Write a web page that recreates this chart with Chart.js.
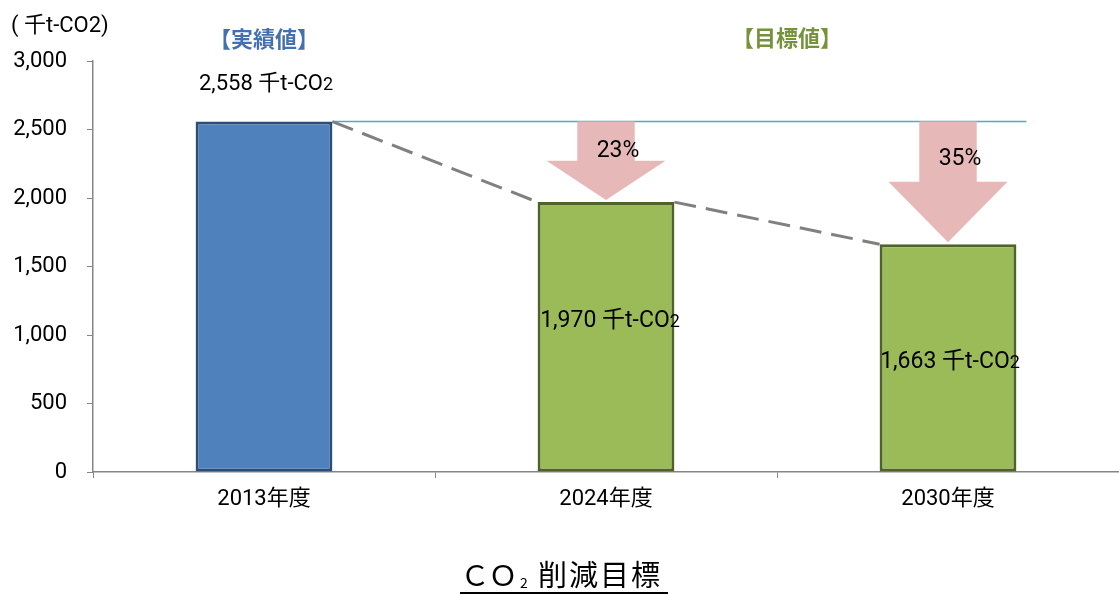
<!DOCTYPE html>
<html>
<head>
<meta charset="utf-8">
<script src="https://cdn.jsdelivr.net/npm/chart.js@4"></script>
<style>
  html, body { margin: 0; padding: 0; background: #fff; }
</style>
</head>
<body>
<canvas id="co2Chart" width="1119" height="596"></canvas>
<script>
// data
const years = ["2013年度", "2024年度", "2030年度"];
const emissions = [2558, 1970, 1663];
const valueLabels = ["2,558", "1,970", "1,663"];
const reductionLabels = ["", "23%", "35%"];
const yTicks = [0, 500, 1000, 1500, 2000, 2500, 3000];

const LATIN = 'Roboto, "Noto Sans CJK JP", sans-serif';
const JP = '"Noto Sans CJK JP", sans-serif';
const AXIS_GREY = "#868686";

// "1,970 千t-CO" + small "2"
function drawCO2Label(ctx, num, cx, cy, size) {
  const main = num + " 千t-CO";
  ctx.font = size + "px " + LATIN;
  const w1 = ctx.measureText(main).width;
  ctx.font = Math.round(size * 0.8) + "px " + LATIN;
  const w2 = ctx.measureText("2").width;
  const x = cx - (w1 + w2) / 2;
  const base = cy + size * 0.36;
  ctx.textAlign = "left";
  ctx.textBaseline = "alphabetic";
  ctx.fillStyle = "#000";
  ctx.font = size + "px " + LATIN;
  ctx.fillText(main, x, base);
  ctx.font = Math.round(size * 0.8) + "px " + LATIN;
  ctx.fillText("2", x + w1, base);
}

function drawArrow(ctx, cx, top, bottom, barW) {
  const shaftW = barW * 0.42;
  const headW = barW * 0.87;
  const headStart = top + (bottom - top) * 0.5;
  ctx.beginPath();
  ctx.moveTo(cx - shaftW / 2, top);
  ctx.lineTo(cx + shaftW / 2, top);
  ctx.lineTo(cx + shaftW / 2, headStart);
  ctx.lineTo(cx + headW / 2, headStart);
  ctx.lineTo(cx, bottom);
  ctx.lineTo(cx - headW / 2, headStart);
  ctx.lineTo(cx - shaftW / 2, headStart);
  ctx.closePath();
  ctx.fillStyle = "#e6b9b8";
  ctx.fill();
}

const overlay = {
  id: "overlay",
  afterDatasetsDraw(chart) {
    const ctx = chart.ctx;
    const y = chart.scales.y;
    const bars = chart.getDatasetMeta(0).data;
    const baseY = y.getPixelForValue(emissions[0]);
    ctx.save();

    // reference line at 2013 level
    ctx.strokeStyle = "#4bacc6";
    ctx.lineWidth = 1.5;
    ctx.beginPath();
    ctx.moveTo(bars[0].x + bars[0].width / 2, baseY);
    ctx.lineTo(bars[bars.length - 1].x + bars[bars.length - 1].width / 2 + 10, baseY);
    ctx.stroke();

    // dashed trend between bar tops
    ctx.strokeStyle = "#808080";
    ctx.lineWidth = 3;
    ctx.setLineDash([22, 10]);
    for (let i = 0; i < bars.length - 1; i++) {
      ctx.beginPath();
      ctx.moveTo(bars[i].x + bars[i].width / 2, bars[i].y);
      ctx.lineTo(bars[i + 1].x - bars[i + 1].width / 2, bars[i + 1].y);
      ctx.stroke();
    }
    ctx.setLineDash([]);

    // reduction arrows
    for (let i = 1; i < bars.length; i++) {
      const top = baseY;
      const bottom = bars[i].y - 2;
      drawArrow(ctx, bars[i].x, top, bottom, bars[i].width);
      ctx.fillStyle = "#000";
      ctx.font = "23px " + LATIN;
      ctx.textAlign = "center";
      ctx.textBaseline = "middle";
      ctx.fillText(reductionLabels[i], bars[i].x + 12, top + 30 + (i - 1) * 8);
    }

    // value labels
    drawCO2Label(ctx, valueLabels[0], bars[0].x + 2, bars[0].y - 39, 22);
    drawCO2Label(ctx, valueLabels[1], bars[1].x + 4, (bars[1].y + bars[1].base) / 2 - 18, 23);
    drawCO2Label(ctx, valueLabels[2], bars[2].x + 2, (bars[2].y + bars[2].base) / 2 + 2, 23);

    ctx.restore();
  },
  afterDraw(chart) {
    const ctx = chart.ctx;
    const bars = chart.getDatasetMeta(0).data;
    ctx.save();
    ctx.textBaseline = "middle";

    // unit
    ctx.fillStyle = "#000";
    ctx.textAlign = "left";
    ctx.font = "22px " + LATIN;
    ctx.fillText("( 千t-CO2)", 11, 26);

    // section headers
    ctx.textAlign = "center";
    ctx.font = "bold 22px " + JP;
    ctx.fillStyle = "#4470b0";
    ctx.fillText("【実績値】", bars[0].x, 39);
    ctx.fillStyle = "#76923c";
    ctx.fillText("【目標値】", 787, 38);

    // bottom title with underline
    ctx.fillStyle = "#000";
    ctx.font = "29px " + JP;
    ctx.fillText("Ｃ", 475, 575);
    ctx.fillText("Ｏ", 503, 575);
    ctx.font = "14px " + JP;
    ctx.fillText("2", 524, 583);
    ctx.textAlign = "left";
    ctx.font = "29px " + JP;
    const title = "削減目標";
    for (let i = 0; i < title.length; i++) {
      ctx.fillText(title[i], 538 + i * 31, 575);
    }
    ctx.fillRect(460, 592, 208, 2);

    ctx.restore();
  }
};

new Chart(document.getElementById("co2Chart"), {
  type: "bar",
  data: {
    labels: years,
    datasets: [{
      data: emissions,
      backgroundColor: ["#4f81bd", "#9bbb59", "#9bbb59"],
      borderColor: ["#2c4d75", "#4f6228", "#4f6228"],
      borderWidth: 3,
      borderSkipped: false,
      categoryPercentage: 1,
      barPercentage: 0.4
    }]
  },
  options: {
    responsive: false,
    animation: false,
    layout: { padding: { top: 61, right: 0, bottom: 0, left: 0 } },
    plugins: {
      legend: { display: false },
      tooltip: { enabled: false }
    },
    scales: {
      x: {
        grid: { drawOnChartArea: false, color: AXIS_GREY, tickLength: 6, offset: true },
        border: { color: AXIS_GREY, width: 1.5 },
        ticks: { color: "#000", font: { size: 22, family: LATIN }, padding: 8 },
        afterFit: (s) => { s.height = 124; }
      },
      y: {
        min: 0,
        max: 3000,
        afterBuildTicks: (s) => { s.ticks = yTicks.map((v) => ({ value: v })); },
        grid: { drawOnChartArea: false, color: AXIS_GREY, tickLength: 6 },
        border: { color: AXIS_GREY, width: 1.5 },
        ticks: { color: "#000", font: { size: 22, family: LATIN }, padding: 20 },
        afterFit: (s) => { s.width = 93; }
      }
    }
  },
  plugins: [overlay]
});
</script>
</body>
</html>
